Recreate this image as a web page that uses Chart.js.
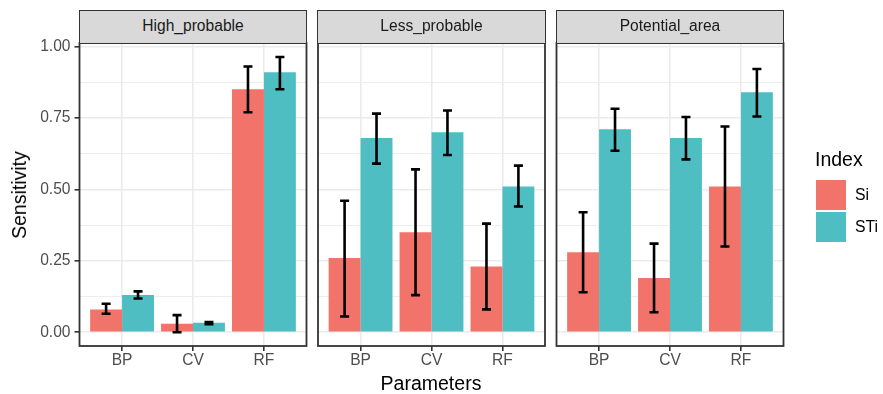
<!DOCTYPE html>
<html>
<head>
<meta charset="utf-8">
<script src="https://cdn.jsdelivr.net/npm/chart.js@4.4.1/dist/chart.umd.min.js"></script>
<style>
  body { margin: 0; background: #fff; font-family: "Liberation Sans", Arial, sans-serif; }
  #wrap { position: relative; width: 883px; height: 394px; overflow: hidden; background: #fff; }
  .layer { position: absolute; left: 0; top: 0; width: 883px; height: 394px; }
  .strip { position: absolute; top: 10px; height: 34px; box-sizing: border-box; background: #D9D9D9;
           border: 1.8px solid #333; color: #1A1A1A; font-size: 15.6px; line-height: 30px; text-align: center; }
  .title { position: absolute; color: #000; font-size: 19.5px; white-space: nowrap; line-height: 22px; }
  .key { position: absolute; left: 815.5px; width: 30.5px; height: 30px; }
  .klabel { position: absolute; left: 855px; font-size: 15.8px; color: #000; line-height: 18px; }
</style>
</head>
<body>
<div id="wrap">
  <canvas id="c0" class="layer"></canvas>
  <canvas id="c1" class="layer"></canvas>
  <canvas id="c2" class="layer"></canvas>
  <div id="strips"></div>
  <div class="title" style="left:19px; top:195px; transform:translate(-50%,-50%) rotate(-90deg);">Sensitivity</div>
  <div class="title" style="left:331px; width:200px; text-align:center; top:372px;">Parameters</div>
  <div class="title" style="left:815px; top:148px;">Index</div>
  <div class="key" style="top:180px; background:#F17369;"></div>
  <div class="key" style="top:212px; background:#4FBEC3;"></div>
  <div class="klabel" style="top:186px;">Si</div>
  <div class="klabel" style="top:218px;">STi</div>
</div>
<script>
// data
const facets = ['High_probable', 'Less_probable', 'Potential_area'];
const categories = ['BP', 'CV', 'RF'];
const seriesNames = ['Si', 'STi'];

const siValues = [[0.08, 0.03, 0.85], [0.26, 0.35, 0.23], [0.28, 0.19, 0.51]];
const siLow    = [[0.065, 0.0, 0.77], [0.055, 0.13, 0.08], [0.14, 0.07, 0.30]];
const siHigh   = [[0.10, 0.06, 0.93], [0.46, 0.57, 0.38], [0.42, 0.31, 0.72]];

const stiValues = [[0.13, 0.033, 0.91], [0.68, 0.70, 0.51], [0.71, 0.68, 0.84]];
const stiLow    = [[0.118, 0.028, 0.85], [0.59, 0.62, 0.44], [0.635, 0.605, 0.755]];
const stiHigh   = [[0.143, 0.036, 0.963], [0.765, 0.776, 0.583], [0.782, 0.753, 0.921]];

const majorTicks = [0, 0.25, 0.5, 0.75, 1];
const minorTicks = [0.125, 0.375, 0.625, 0.875];

const colors = ['#F17369', '#4FBEC3'];

// panel layout
const panelLeft = [79.5, 318, 556.5];
const panelWidth = 227;
const panelTop = 43, panelBottom = 346;
const yAxisWidth = 79.5, xAxisHeight = 30;

const isMajor = v => majorTicks.includes(v);

const errorBars = {
  id: 'errorBars',
  afterDatasetsDraw(chart) {
    const { ctx } = chart;
    const y = chart.scales.y;
    ctx.save();
    ctx.strokeStyle = '#000';
    ctx.lineWidth = 2.6;
    chart.data.datasets.forEach((ds, di) => {
      chart.getDatasetMeta(di).data.forEach((bar, j) => {
        const lo = y.getPixelForValue(ds.errLow[j]);
        const hi = y.getPixelForValue(ds.errHigh[j]);
        const x = bar.x, w = 4.5;
        ctx.beginPath();
        ctx.moveTo(x, lo); ctx.lineTo(x, hi);
        ctx.moveTo(x - w, lo); ctx.lineTo(x + w, lo);
        ctx.moveTo(x - w, hi); ctx.lineTo(x + w, hi);
        ctx.stroke();
      });
    });
    ctx.restore();
  },
  afterDraw(chart) {
    const { ctx, chartArea: a } = chart;
    ctx.save();
    ctx.strokeStyle = '#333';
    ctx.lineWidth = 1.8;
    ctx.strokeRect(a.left, a.top, a.right - a.left, a.bottom - a.top);
    ctx.restore();
  }
};

function makePanel(i) {
  const first = i === 0;
  const left = panelLeft[i];
  new Chart(document.getElementById('c' + i), {
    type: 'bar',
    data: {
      datasets: [
        {
          label: seriesNames[0],
          data: siValues[i].map((v, j) => ({ x: j + 1, y: v })),
          errLow: siLow[i], errHigh: siHigh[i],
          backgroundColor: colors[0]
        },
        {
          label: seriesNames[1],
          data: stiValues[i].map((v, j) => ({ x: j + 1, y: v })),
          errLow: stiLow[i], errHigh: stiHigh[i],
          backgroundColor: colors[1]
        }
      ]
    },
    options: {
      responsive: false,
      animation: false,
      events: [],
      categoryPercentage: 0.9,
      barPercentage: 1.0,
      borderWidth: 0,
      layout: {
        padding: {
          left: first ? left - yAxisWidth : left,
          right: 883 - left - panelWidth,
          top: panelTop,
          bottom: 394 - panelBottom - xAxisHeight
        }
      },
      plugins: { legend: { display: false }, tooltip: { enabled: false } },
      scales: {
        x: {
          type: 'linear',
          min: 0.4, max: 3.6,
          offset: false,
          afterBuildTicks: ax => { ax.ticks = categories.map((c, j) => ({ value: j + 1 })); },
          afterFit: ax => { ax.height = xAxisHeight; },
          border: { display: false },
          grid: { offset: false, color: '#EBEBEB', lineWidth: 1.6, tickColor: '#333', tickWidth: 1.6, tickLength: 5 },
          ticks: {
            autoSkip: false, maxRotation: 0, padding: 0,
            color: '#4D4D4D', font: { family: 'Liberation Sans', size: 15.6 },
            callback: v => categories[v - 1]
          }
        },
        y: {
          min: -0.048, max: 1.012,
          afterBuildTicks: ax => {
            ax.ticks = majorTicks.concat(minorTicks).sort((a, b) => a - b).map(v => ({ value: v }));
          },
          afterFit: ax => { ax.width = first ? yAxisWidth : 0; },
          border: { display: false },
          grid: {
            color: '#EBEBEB',
            lineWidth: c => isMajor(c.tick.value) ? 1.6 : 0.9,
            drawTicks: first,
            tickColor: c => isMajor(c.tick.value) ? '#333' : 'rgba(0,0,0,0)',
            tickWidth: 1.6, tickLength: 5
          },
          ticks: {
            display: first,
            autoSkip: false, padding: 4,
            color: '#4D4D4D', font: { family: 'Liberation Sans', size: 15.6 },
            callback: v => isMajor(v) ? v.toFixed(2) : ''
          }
        }
      }
    },
    plugins: [errorBars]
  });

  const s = document.createElement('div');
  s.className = 'strip';
  s.style.left = (left - 0.9) + 'px';
  s.style.width = (panelWidth + 1.8) + 'px';
  s.textContent = facets[i];
  document.getElementById('strips').appendChild(s);
}

document.querySelectorAll('canvas').forEach(c => { c.width = 883; c.height = 394; });
facets.forEach((f, i) => makePanel(i));
</script>
</body>
</html>
